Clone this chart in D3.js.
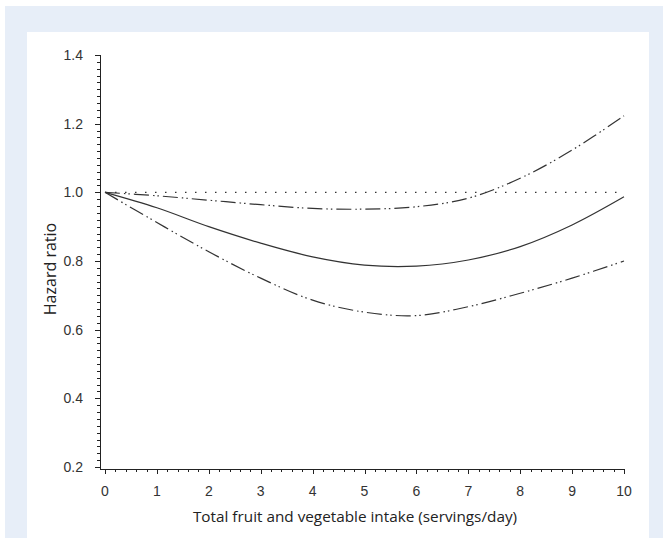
<!DOCTYPE html>
<meta charset="utf-8">
<style>
body { margin: 0; background: #fff; }
.curve { fill: none; stroke: #333; stroke-width: 1.2; }
.axis path, .axis line { stroke: #222; stroke-width: 1; shape-rendering: crispEdges; }
.axis text { font-family: "Liberation Sans", Arial, sans-serif; font-size: 14px; fill: #333; }
</style>
<body></body>
<script src="https://d3js.org/d3.v7.min.js"></script>
<script>
// servings/day
var intake = [0, 1, 2, 3, 4, 5, 6, 7, 8, 9, 10];
// hazard ratio estimate and 95% CI
var hr    = [1.0, 0.955, 0.900, 0.852, 0.812, 0.788, 0.785, 0.803, 0.842, 0.905, 0.987];
var upper = [1.0, 0.990, 0.977, 0.964, 0.953, 0.951, 0.958, 0.983, 1.041, 1.123, 1.223];
var lower = [1.0, 0.912, 0.827, 0.750, 0.686, 0.651, 0.641, 0.667, 0.706, 0.750, 0.800];
var reference = 1.0;
var yTicks = [0.2, 0.4, 0.6, 0.8, 1.0, 1.2, 1.4];
var xTicks = [0, 1, 2, 3, 4, 5, 6, 7, 8, 9, 10];

var W = 663, H = 538;
var svg = d3.select("body").append("svg")
    .attr("width", W)
    .attr("height", H);

// light blue frame with white panel
svg.append("rect").attr("x", 5).attr("y", 6).attr("width", W - 5).attr("height", H - 6)
    .attr("fill", "#e7eef8");
svg.append("rect").attr("x", 27).attr("y", 32).attr("width", 622).attr("height", H - 32)
    .attr("fill", "#fff");

var xScale = d3.scaleLinear().domain([0, 10]).range([105, 624]);
var yScale = d3.scaleLinear().domain([0.2, 1.4]).range([467, 55]);

var axisLeftX = 100, axisBottomY = 469;

// minor ticks
var yMinor = d3.range(0.2, 1.4001, 0.02);
var xMinor = d3.range(0, 10.001, 0.2);

var yAxis = svg.append("g").attr("class", "axis");
yAxis.append("line").attr("x1", axisLeftX).attr("x2", axisLeftX)
    .attr("y1", yScale(1.4)).attr("y2", axisBottomY);
yAxis.selectAll(".ymin").data(yMinor).enter().append("line")
    .attr("x1", axisLeftX - 3).attr("x2", axisLeftX)
    .attr("y1", function(d) { return Math.round(yScale(d)) + 0.5; })
    .attr("y2", function(d) { return Math.round(yScale(d)) + 0.5; });
yAxis.selectAll(".ymaj").data(yTicks).enter().append("line")
    .attr("x1", axisLeftX - 5).attr("x2", axisLeftX)
    .attr("y1", function(d) { return Math.round(yScale(d)) + 0.5; })
    .attr("y2", function(d) { return Math.round(yScale(d)) + 0.5; });
yAxis.selectAll("text").data(yTicks).enter().append("text")
    .attr("x", axisLeftX - 17)
    .attr("y", function(d) { return yScale(d); })
    .attr("dy", "0.36em")
    .attr("text-anchor", "end")
    .text(function(d) { return d.toFixed(1); });

var xAxis = svg.append("g").attr("class", "axis");
xAxis.append("line").attr("x1", axisLeftX).attr("x2", xScale(10))
    .attr("y1", axisBottomY).attr("y2", axisBottomY);
xAxis.selectAll(".xmin").data(xMinor).enter().append("line")
    .attr("x1", function(d) { return Math.round(xScale(d)) + 0.5; })
    .attr("x2", function(d) { return Math.round(xScale(d)) + 0.5; })
    .attr("y1", axisBottomY).attr("y2", axisBottomY + 3);
xAxis.selectAll(".xmaj").data(xTicks).enter().append("line")
    .attr("x1", function(d) { return Math.round(xScale(d)) + 0.5; })
    .attr("x2", function(d) { return Math.round(xScale(d)) + 0.5; })
    .attr("y1", axisBottomY).attr("y2", axisBottomY + 5);
xAxis.selectAll("text").data(xTicks).enter().append("text")
    .attr("x", function(d) { return xScale(d); })
    .attr("y", 496)
    .attr("text-anchor", "middle")
    .text(function(d) { return d; });

var line = d3.line()
    .x(function(d) { return xScale(d[0]); })
    .y(function(d) { return yScale(d[1]); })
    .curve(d3.curveCatmullRom);

function pairs(vals) { return intake.map(function(x, i) { return [x, vals[i]]; }); }

// reference line at HR = 1
svg.append("path")
    .datum([[0, reference], [10, reference]])
    .attr("class", "curve")
    .attr("stroke-dasharray", "1.5,8.5")
    .attr("d", line);

svg.append("path").datum(pairs(upper)).attr("class", "curve")
    .attr("stroke-dasharray", "15,4,1.5,3,1.5,4").attr("d", line);
svg.append("path").datum(pairs(lower)).attr("class", "curve")
    .attr("stroke-dasharray", "15,4,1.5,3,1.5,4").attr("d", line);
svg.append("path").datum(pairs(hr)).attr("class", "curve").attr("d", line);

// axis titles
svg.append("text")
    .attr("transform", "translate(56,269) rotate(-90)")
    .attr("text-anchor", "middle")
    .style("font-family", "'Open Sans', sans-serif")
    .style("font-size", "16px")
    .style("fill", "#222")
    .text("Hazard ratio");

svg.append("text")
    .attr("x", 355)
    .attr("y", 522)
    .attr("text-anchor", "middle")
    .style("font-family", "'Open Sans', sans-serif")
    .style("font-size", "15.3px")
    .style("fill", "#222")
    .text("Total fruit and vegetable intake (servings/day)");
</script>
